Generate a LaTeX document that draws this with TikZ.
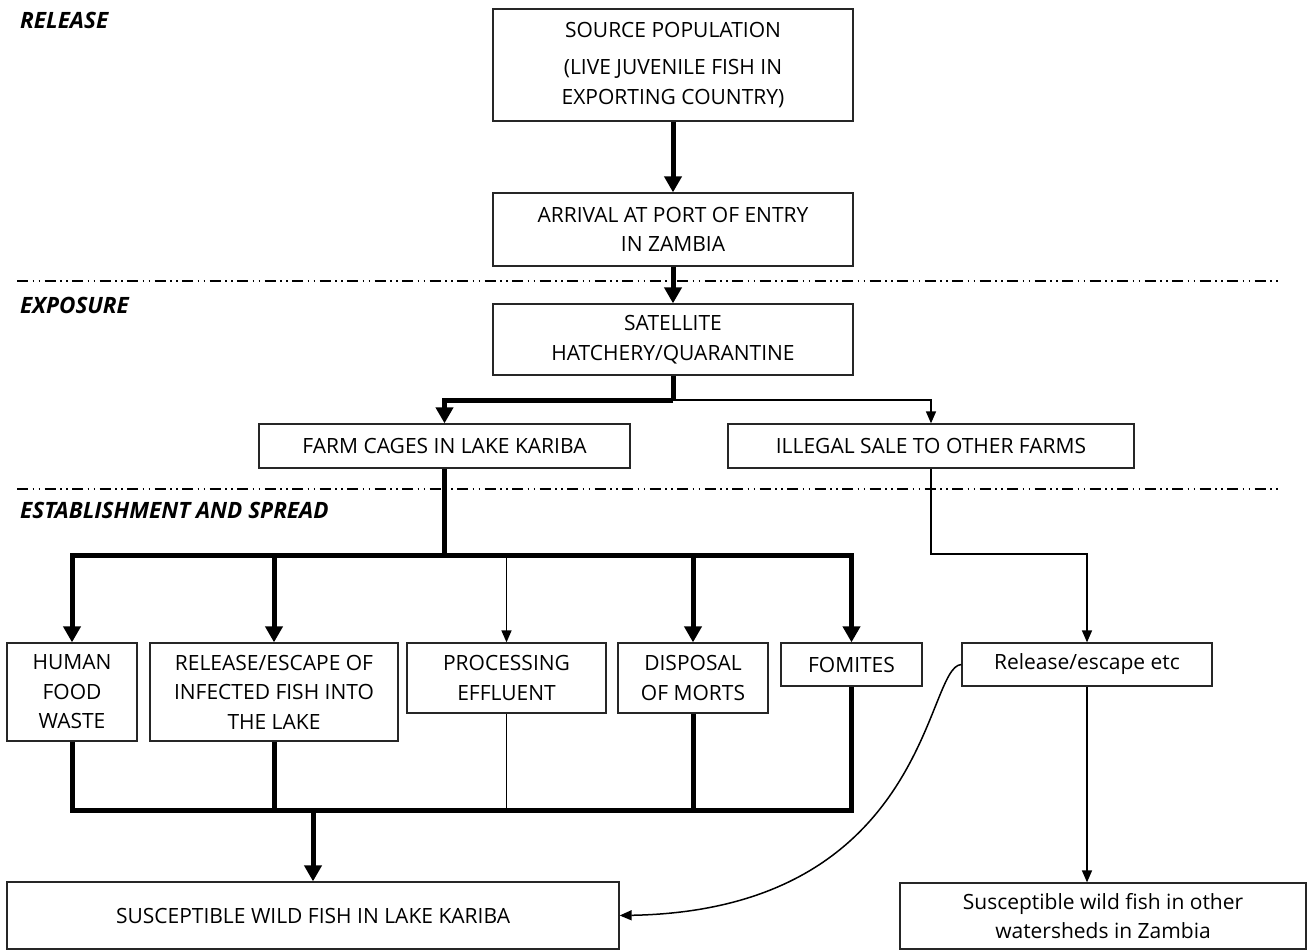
\documentclass[tikz,border=0pt]{standalone}
\usepackage{fontspec}
\setmainfont{Open Sans}
\usetikzlibrary{arrows.meta}
\tikzset{
  box/.style={draw=black!85, line width=1.3pt, inner sep=0pt, align=center,
    font=\fontsize{21}{29.5}\selectfont},
  stage/.style={anchor=west, inner sep=0pt, font=\fontsize{22.5}{26}\selectfont\bfseries\itshape},
  heavy/.style={line width=5pt},
  light/.style={line width=1.5pt},
  heavyarrow/.style={heavy, -{Triangle[length=16pt,width=17pt]}},
  lightarrow/.style={light, -{Triangle[length=12pt,width=10pt]}},
  divider/.style={line width=1.5pt,
    dash pattern=on 11pt off 4.5pt on 1.5pt off 4.5pt on 1.5pt off 4.5pt}
}
\begin{document}
\begin{tikzpicture}[x=1pt,y=-1pt]
\useasboundingbox[fill=white] (0,0) rectangle (1308,951);

% stage labels and dividers
\node[stage] (lrel) at (20,20) {RELEASE};
\node[stage] (lexp) at (20,305) {EXPOSURE};
\node[stage] (lest) at (20,510) {ESTABLISHMENT AND SPREAD};
\draw[divider] (17,281) -- (1282,281);
\draw[divider] (17,489) -- (1282,489);

% release stage
\node[box, minimum width=360pt, minimum height=112pt] (src) at (673,65)
  {SOURCE POPULATION\\[8pt](LIVE JUVENILE FISH IN\\EXPORTING COUNTRY)};
\node[box, minimum width=360pt, minimum height=73pt] (arr) at (673,229.5)
  {ARRIVAL AT PORT OF ENTRY\\IN ZAMBIA};

% exposure stage
\node[box, minimum width=360pt, minimum height=71pt] (sat) at (673,339.5)
  {SATELLITE\\HATCHERY/QUARANTINE};
\node[box, minimum width=371pt, minimum height=44pt] (farm) at (444.5,446)
  {FARM CAGES IN LAKE KARIBA};
\node[box, minimum width=406pt, minimum height=44pt] (ille) at (931,446)
  {ILLEGAL SALE TO OTHER FARMS};

% establishment and spread
\node[box, minimum width=130pt, minimum height=98pt] (human) at (72,692)
  {HUMAN\\FOOD\\WASTE};
\node[box, minimum width=248pt, minimum height=98pt] (rel) at (274,692)
  {RELEASE/ESCAPE OF\\INFECTED FISH INTO\\THE LAKE};
\node[box, minimum width=199pt, minimum height=70pt] (proc) at (506.5,678)
  {PROCESSING\\EFFLUENT};
\node[box, minimum width=150pt, minimum height=70pt] (disp) at (693,678)
  {DISPOSAL\\OF MORTS};
\node[box, minimum width=141pt, minimum height=43pt] (fom) at (851.5,664.5)
  {FOMITES};
\node[box, minimum width=250pt, minimum height=43pt] (resc) at (1087,664.5)
  {Release/escape etc};
\node[box, minimum width=612pt, minimum height=67pt] (swl) at (313,915.5)
  {SUSCEPTIBLE WILD FISH IN LAKE KARIBA};
\node[box, minimum width=406pt, minimum height=66pt] (swo) at (1103,916)
  {Susceptible wild fish in other\\watersheds in Zambia};

% junction points
\coordinate (split) at (673,400);
\coordinate (upbus) at (0,555);
\coordinate (lowbus) at (0,810);
\coordinate (jog) at (0,554);

% release and exposure flow
\draw[heavyarrow] (src) -- (arr);
\draw[heavyarrow] (arr) -- (sat);
\draw[heavy] (sat.south) -- (split);
\draw[heavyarrow, line join=miter] (split) -| (farm.north);
\draw[lightarrow] (split) -| (ille.north);

% from the farm cages to the five pathways
\draw[heavy] (farm.south) -- (farm.south |- upbus);
\draw[heavy, line cap=rect] (human.north |- upbus) -- (fom.north |- upbus);
\draw[heavyarrow] (human.north |- upbus) -- (human.north);
\draw[heavyarrow] (rel.north |- upbus) -- (rel.north);
\draw[lightarrow] (proc.north |- upbus) -- (proc.north);
\draw[heavyarrow] (disp.north |- upbus) -- (disp.north);
\draw[heavyarrow] (fom.north |- upbus) -- (fom.north);

% from illegal sale to release/escape
\draw[lightarrow] (ille.south) |- (resc.north |- jog) -- (resc.north);

% pathways joining towards the lake
\draw[heavy] (human.south) -- (human.south |- lowbus);
\draw[heavy] (rel.south) -- (rel.south |- lowbus);
\draw[light] (proc.south) -- (proc.south |- lowbus);
\draw[heavy] (disp.south) -- (disp.south |- lowbus);
\draw[heavy] (fom.south) -- (fom.south |- lowbus);
\draw[heavy, line cap=rect] (human.south |- lowbus) -- (fom.south |- lowbus);
\draw[heavyarrow] (swl.north |- lowbus) -- (swl.north);

% release/escape outlets
\draw[lightarrow] (resc.west) .. controls (925,666) and (930,910) .. (swl.east);
\draw[lightarrow] (resc.south) -- (resc.south |- swo.north);
\end{tikzpicture}
\end{document}
